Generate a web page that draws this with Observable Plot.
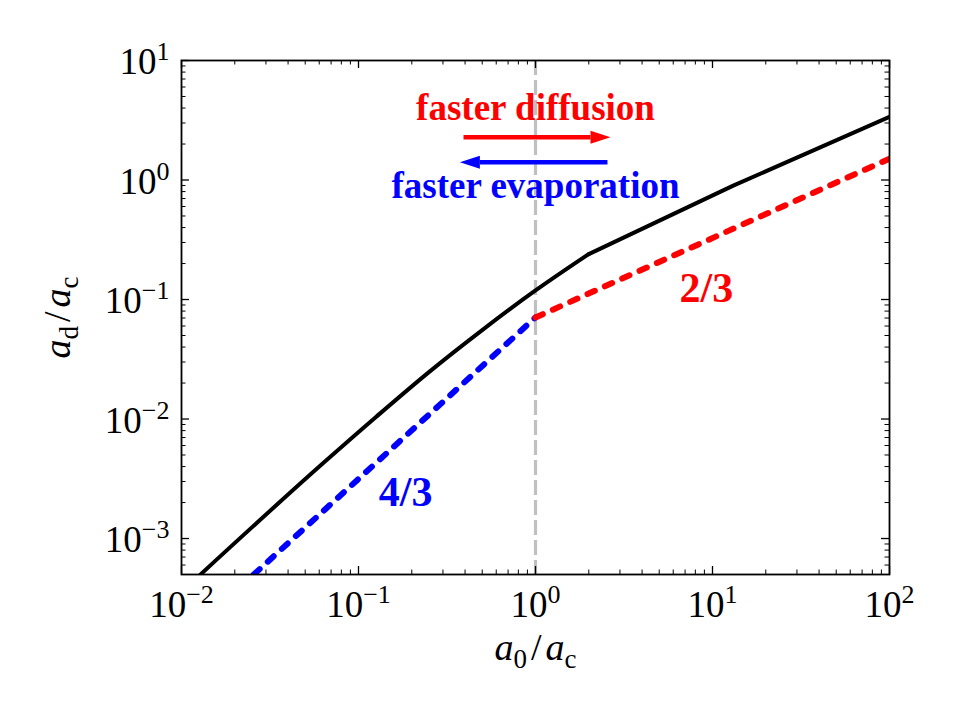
<!DOCTYPE html>
<html><head><meta charset="utf-8">
<script src="https://cdn.jsdelivr.net/npm/d3@7"></script>
<script src="https://cdn.jsdelivr.net/npm/@observablehq/plot@0.6"></script>
<style>body{margin:0;background:#fff}</style>
</head><body><div id="chart"></div>
<script>
// ---- data ----
const blackX = [0.0128, 0.063, 0.126, 0.25, 0.5, 1, 2, 13.1, 100];
const blackY = [5.0e-4, 0.00426, 0.01045, 0.0247, 0.0555, 0.119, 0.240, 0.897, 3.38];
const blackKink = 6; // index of the kink at a0/ac = 2
const blueX = [0.0256, 1];
const blueY = [5.0e-4, 0.0708];
const redX = [1, 100];
const redY = [0.0708, 1.51];
const critX = [1];

const arrowRedX = [0.392, 2.045];
const arrowRedY = [2.28, 2.28];
const arrowBlueX = [2.55, 0.485];
const arrowBlueY = [1.41, 1.41];

const annoRed = ["faster diffusion"], annoRedX = [1.0], annoRedY = [3.96];
const annoBlue = ["faster evaporation"], annoBlueX = [1.0], annoBlueY = [0.88];
const slopeRed = ["2/3"], slopeRedX = [9.23], slopeRedY = [0.123];
const slopeBlue = ["4/3"], slopeBlueX = [0.1845], slopeBlueY = [0.00241];

const xMajor = [1e-2, 1e-1, 1, 10, 100];
const xLabels = ["10^−2", "10^−1", "10^0", "10^1", "10^2"];
const yMajor = [1e-3, 1e-2, 1e-1, 1, 10];
const yLabels = ["10^−3", "10^−2", "10^−1", "10^0", "10^1"];
const xTitle = ["a|0|/|a|c"];
const yTitle = ["a|d|/|a|c"];
const xDomain = [1e-2, 100];
const yDomain = [5e-4, 10];

const xMinor = [];
for (const d of [0.01, 0.1, 1, 10]) for (let k = 2; k < 10; k++) xMinor.push(k * d);
const yMinor = [];
for (let k = 5; k < 10; k++) yMinor.push(k * 1e-4);
for (const d of [1e-3, 1e-2, 1e-1, 1]) for (let k = 2; k < 10; k++) yMinor.push(k * d);

// ---- layout ----
const W = 961, H = 721, mL = 181, mR = 72, mT = 60, mB = 147;
const fW = W - mL - mR, fH = H - mT - mB;
const FONT = "'Liberation Serif', 'Times New Roman', serif";

const headRight = {draw(ctx) { ctx.moveTo(20, 0); ctx.lineTo(0, -6.5); ctx.lineTo(0, 6.5); ctx.closePath(); }};
const headLeft = {draw(ctx) { ctx.moveTo(-20, 0); ctx.lineTo(0, -6.5); ctx.lineTo(0, 6.5); ctx.closePath(); }};

const bx1 = blackX.slice(0, blackKink + 1), by1 = blackY.slice(0, blackKink + 1);
const bx2 = blackX.slice(blackKink), by2 = blackY.slice(blackKink);

const svg = Plot.plot({
  width: W, height: H,
  marginLeft: mL, marginRight: mR, marginTop: mT, marginBottom: mB,
  style: {fontFamily: FONT, background: "#fff", color: "#000"},
  x: {type: "log", domain: xDomain, axis: null},
  y: {type: "log", domain: yDomain, axis: null},
  marks: [
    Plot.ruleX(critX, {x: d => d, stroke: "#c0c0c0", strokeWidth: 3.2, strokeDasharray: "15,5"}),
    Plot.line(bx1, {x: bx1, y: by1, curve: "monotone-x", stroke: "#000", strokeWidth: 4, clip: true}),
    Plot.line(bx2, {x: bx2, y: by2, stroke: "#000", strokeWidth: 4, clip: true}),
    Plot.line(blueX, {x: blueX, y: blueY, stroke: "#0000ff", strokeWidth: 6, strokeDasharray: "8,11", strokeLinecap: "round", clip: true}),
    Plot.line(redX, {x: redX, y: redY, stroke: "#ff0000", strokeWidth: 6, strokeDasharray: "8,11", strokeLinecap: "round", clip: true}),
    // arrows
    Plot.link([0], {x1: [arrowRedX[0]], x2: [arrowRedX[1]], y1: [arrowRedY[0]], y2: [arrowRedY[1]], stroke: "#ff0000", strokeWidth: 4.5}),
    Plot.dot([0], {x: [arrowRedX[1]], y: [arrowRedY[1]], symbol: headRight, fill: "#ff0000", stroke: "none", r: 5}),
    Plot.link([0], {x1: [arrowBlueX[0]], x2: [arrowBlueX[1]], y1: [arrowBlueY[0]], y2: [arrowBlueY[1]], stroke: "#0000ff", strokeWidth: 4.5}),
    Plot.dot([0], {x: [arrowBlueX[1]], y: [arrowBlueY[1]], symbol: headLeft, fill: "#0000ff", stroke: "none", r: 5}),
    // annotations
    Plot.text(annoRed, {x: annoRedX, y: annoRedY, text: d => d, fill: "#ff0000", fontWeight: "bold", fontSize: 37}),
    Plot.text(annoBlue, {x: annoBlueX, y: annoBlueY, text: d => d, fill: "#0000ff", fontWeight: "bold", fontSize: 37}),
    Plot.text(slopeRed, {x: slopeRedX, y: slopeRedY, text: d => d, fill: "#ff0000", fontWeight: "bold", fontSize: 42}),
    Plot.text(slopeBlue, {x: slopeBlueX, y: slopeBlueY, text: d => d, fill: "#0000ff", fontWeight: "bold", fontSize: 42}),
    // frame & inward ticks
    Plot.frame({stroke: "#000", strokeWidth: 1.8}),
    Plot.tickX(xMajor, {x: d => d, insetBottom: fH - 8, strokeWidth: 1.3}),
    Plot.tickX(xMajor, {x: d => d, insetTop: fH - 8, strokeWidth: 1.3}),
    Plot.tickX(xMinor, {x: d => d, insetBottom: fH - 4.5, strokeWidth: 1}),
    Plot.tickX(xMinor, {x: d => d, insetTop: fH - 4.5, strokeWidth: 1}),
    Plot.tickY(yMajor, {y: d => d, insetRight: fW - 8, strokeWidth: 1.3}),
    Plot.tickY(yMajor, {y: d => d, insetLeft: fW - 8, strokeWidth: 1.3}),
    Plot.tickY(yMinor, {y: d => d, insetRight: fW - 4.5, strokeWidth: 1}),
    Plot.tickY(yMinor, {y: d => d, insetLeft: fW - 4.5, strokeWidth: 1}),
    // tick labels
    Plot.text(xLabels, {x: xMajor, text: d => d, frameAnchor: "bottom", textAnchor: "middle", lineAnchor: "middle", dy: 31, fontSize: 37}),
    Plot.text(yLabels, {y: yMajor, text: d => d, frameAnchor: "left", textAnchor: "end", lineAnchor: "middle", dx: -12, dy: 2, fontSize: 37}),
    // axis titles
    Plot.text(xTitle, {text: d => d, frameAnchor: "bottom", textAnchor: "middle", lineAnchor: "middle", dy: 73, fontSize: 38}),
    Plot.text(yTitle, {text: d => d, frameAnchor: "left", textAnchor: "middle", lineAnchor: "middle", dx: -124, rotate: -90, fontSize: 38})
  ]
});
document.getElementById("chart").append(svg);

// superscript exponents in tick labels; math-style axis titles
d3.select(svg).selectAll("text").each(function() {
  const s = this.textContent;
  const t = d3.select(this);
  if (s.includes("^")) {
    const [b, e] = s.split("^");
    t.text(null);
    t.append("tspan").text(b);
    t.append("tspan").attr("dy", -14).attr("font-size", 26).text(e);
  } else if (s.includes("|")) {
    const p = s.split("|");
    t.text(null);
    t.append("tspan").attr("font-style", "italic").text(p[0]);
    t.append("tspan").attr("dy", 8).attr("font-size", 27).text(p[1]);
    t.append("tspan").attr("dy", -8).attr("dx", 4).text(p[2]);
    t.append("tspan").attr("dx", 4).attr("font-style", "italic").text(p[3]);
    t.append("tspan").attr("dy", 8).attr("font-size", 27).text(p[4]);
  }
});
</script>
</body></html>
